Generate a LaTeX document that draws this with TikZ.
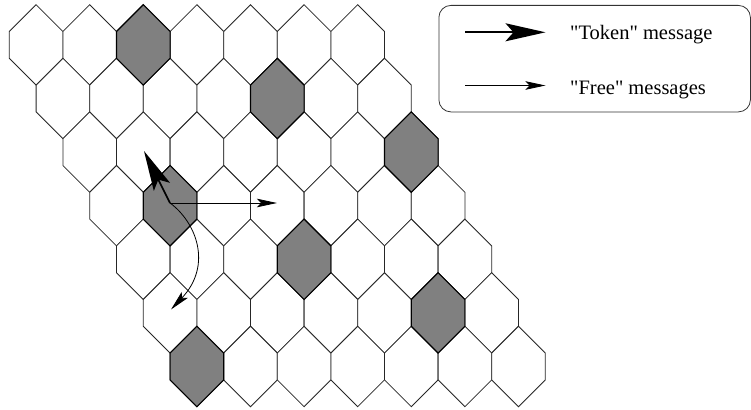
\documentclass[tikz,border=0pt]{standalone}
\usepackage{fontspec}
\setmainfont{Liberation Serif}[Ligatures=TeXOff]
\usetikzlibrary{arrows.meta}
\begin{document}
\begin{tikzpicture}[x=1pt,y=-1pt,
  hexcell/.style={draw=black!85, line width=0.8pt, fill=white, line join=miter},
  hexgray/.style={draw=black, line width=1.1pt, fill=black!50, line join=miter},
  tokenarrow/.style={line width=1.6pt, -{Stealth[length=40pt,width=18pt,inset=8pt]}},
  freearrow/.style={line width=0.8pt, -{Stealth[length=20pt,width=8.5pt,inset=4pt]}},
  legendbox/.style={draw=black!80, line width=0.8pt, rounded corners=12pt, anchor=north west, minimum width=311.5pt, minimum height=106.5pt, inner sep=0pt},
  legendtext/.style={anchor=base west, inner sep=0pt, font=\fontsize{20.5}{24}\selectfont}]
\useasboundingbox (0,0) rectangle (751,409);
% hexagonal grid
\foreach \r in {0,...,6}{
  \foreach \c in {0,...,6}{
    \pgfmathsetmacro\cx{36.1+26.8*\r+53.6*\c}
    \pgfmathsetmacro\cy{44.9+53.6*\r}
    \draw[hexcell] (\cx,\cy-40.2) -- ++(26.8,26.8) -- ++(0,26.8) -- ++(-26.8,26.8) -- ++(-26.8,-26.8) -- ++(0,-26.8) -- cycle;
  }
}
\foreach \r/\c in {0/2,1/4,2/6,3/1,4/3,5/5,6/0}{
  \pgfmathsetmacro\cx{36.1+26.8*\r+53.6*\c}
  \pgfmathsetmacro\cy{44.9+53.6*\r}
  \draw[hexgray] (\cx,\cy-40.2) -- ++(26.8,26.8) -- ++(0,26.8) -- ++(-26.8,26.8) -- ++(-26.8,-26.8) -- ++(0,-26.8) -- cycle;
}
% arrows in the grid
\coordinate (src) at (170,203);
\coordinate (tok) at (144,151);
\coordinate (fright) at (277,203);
\coordinate (fdown) at (171,309.5);
\draw[tokenarrow] (src) .. controls (166,195) .. (tok);
\draw[freearrow] (src) -- (fright);
\draw[freearrow] (src) .. controls (196,222) and (213,265) .. (fdown);
% legend
\node[legendbox] (legend) at (438.5,5) {};
\coordinate (lt1) at (465,32.3);
\coordinate (lt2) at (545.5,32.3);
\coordinate (lf1) at (465,85.5);
\coordinate (lf2) at (545.5,85.5);
\draw[tokenarrow] (lt1) -- (lt2);
\draw[freearrow] (lf1) -- (lf2);
\node[legendtext] (ttok) at (570,40) {"Token" message};
\node[legendtext] (tfree) at (570,95) {"Free" messages};
\end{tikzpicture}
\end{document}
